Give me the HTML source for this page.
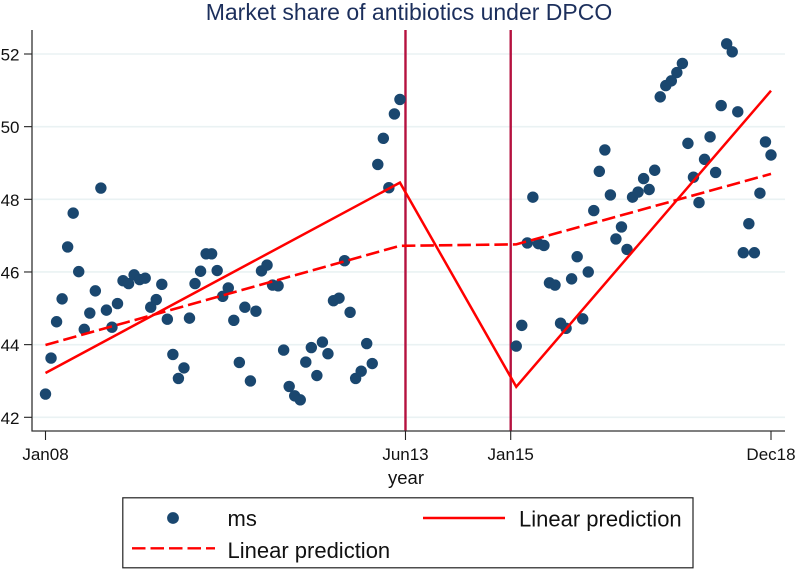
<!DOCTYPE html>
<html lang="en">
<head>
<meta charset="utf-8">
<title>Market share of antibiotics under DPCO</title>
<style>
html,body{margin:0;padding:0;background:#fff;width:797px;height:569px;overflow:hidden}
svg{display:block}
text{font-family:"Liberation Sans",Arial,sans-serif;fill:#111}
</style>
</head>
<body>
<svg id="chart" xmlns="http://www.w3.org/2000/svg" width="797" height="569" viewBox="0 0 797 569">
  <text x="409" y="20" text-anchor="middle" font-size="23" style="fill:#1c2f5c">Market share of antibiotics under DPCO</text>
  <g id="grid"></g>
  <g id="vlines"></g>
  <g id="points"></g>
  <g id="fits"></g>
  <g id="axes"></g>
  <text x="406" y="484" text-anchor="middle" font-size="18.5">year</text>
  <g>
    <rect x="122.8" y="497.8" width="570.2" height="70" fill="#fff" stroke="#222" stroke-width="1.2"/>
    <circle cx="173" cy="518" r="5.9" fill="#1a476f"/>
    <text x="227.5" y="526" font-size="22">ms</text>
    <line x1="423" y1="518" x2="505" y2="518" stroke="#ff0000" stroke-width="2.4"/>
    <text x="519" y="526.5" font-size="22">Linear prediction</text>
    <line x1="132" y1="548.3" x2="215" y2="548.3" stroke="#ff0000" stroke-width="2.4" stroke-dasharray="13.5 5"/>
    <text x="227.5" y="558" font-size="22">Linear prediction</text>
  </g>
</svg>
<script>
const yTicks = [42, 44, 46, 48, 50, 52];
const xTickMonths = [0, 65, 84, 131];
const xTickLabels = ["Jan08", "Jun13", "Jan15", "Dec18"];
const interventionMonths = [65, 84];

const msPreStartMonth = 0;
const msPre = [42.64,43.63,44.63,45.26,46.69,47.62,46.01,44.42,44.87,45.48,48.31,44.95,44.48,45.13,45.76,45.68,45.92,45.79,45.83,45.03,45.24,45.66,44.70,43.73,43.07,43.36,44.73,45.68,46.02,46.50,46.50,46.04,45.33,45.56,44.67,43.51,45.03,43.00,44.92,46.03,46.19,45.64,45.62,43.85,42.85,42.59,42.48,43.52,43.92,43.15,44.07,43.75,45.21,45.28,46.31,44.89,43.07,43.27,44.03,43.48,48.96,49.68,48.32,50.35,50.75];

const msPostStartMonth = 85;
const msPost = [43.96,44.53,46.80,48.06,46.78,46.73,45.70,45.64,44.59,44.45,45.81,46.42,44.71,46.00,47.69,48.77,49.36,48.12,46.91,47.24,46.62,48.06,48.20,48.57,48.27,48.80,50.82,51.13,51.26,51.49,51.74,49.54,48.61,47.91,49.10,49.72,48.74,50.58,52.28,52.06,50.41,46.53,47.33,46.53,48.17,49.58,49.22];

const fitMonths = [0, 64, 85, 131];
const fitSolid = [43.22, 48.46, 42.84, 50.99];
const fitDashed = [43.99, 46.72, 46.76, 48.70];

function xScale(month) { return 45.5 + month * (771 - 45.5) / 131; }
function yScale(value) { return 417.3 - (value - 42) * 36.33; }

const SVG_NS = "http://www.w3.org/2000/svg";
function make(tag, attrs, parentId) {
  const node = document.createElementNS(SVG_NS, tag);
  for (const k in attrs) node.setAttribute(k, attrs[k]);
  document.getElementById(parentId).appendChild(node);
  return node;
}

yTicks.forEach(function (t) {
  const g = make("line", {x1: 33, x2: 785, y1: yScale(t), y2: yScale(t), stroke: "#eaf2f3", "stroke-width": 1.6}, "grid");
  
  
});

interventionMonths.forEach(function (m) {
  const v = make("line", {x1: xScale(m), x2: xScale(m), y1: 30, y2: 431, stroke: "#b5113f", "stroke-width": 2.4}, "vlines");
  
  
});

function drawPoints(series, start) {
  series.forEach(function (val, i) {
    const c = make("circle", {cx: xScale(start + i), cy: yScale(val), r: 5.7, fill: "#1a476f"}, "points");
    
    
  });
}
drawPoints(msPre, msPreStartMonth);
drawPoints(msPost, msPostStartMonth);

function linePoints(series) {
  return series.map(function (v, i) { return xScale(fitMonths[i]).toFixed(2) + "," + yScale(v).toFixed(2); }).join(" ");
}
const solid = make("polyline", {points: linePoints(fitSolid), fill: "none", stroke: "#ff0000", "stroke-width": 2.5}, "fits");


const dashed = make("polyline", {points: linePoints(fitDashed), fill: "none", stroke: "#ff0000", "stroke-width": 2.6, "stroke-dasharray": "13.5 5"}, "fits");



const yAxisLine = make("line", {x1: 32, x2: 32, y1: 30, y2: 431.5, stroke: "#333", "stroke-width": 1.3}, "axes");


const xAxisLine = make("line", {x1: 31.5, x2: 785, y1: 431, y2: 431, stroke: "#333", "stroke-width": 1.3}, "axes");



yTicks.forEach(function (t) {
  const tick = make("line", {x1: 24, x2: 32, y1: yScale(t), y2: yScale(t), stroke: "#222", "stroke-width": 1.1}, "axes");
  
  
  const lab = make("text", {x: 19.5, y: yScale(t) + 6.5, "text-anchor": "end", "font-size": 17}, "axes");
  
  
  lab.textContent = String(t);
});

xTickMonths.forEach(function (m, i) {
  const tick = make("line", {x1: xScale(m), x2: xScale(m), y1: 431, y2: 440, stroke: "#222", "stroke-width": 1.1}, "axes");
  
  
  const lab = make("text", {x: xScale(m), y: 460, "text-anchor": "middle", "font-size": 17}, "axes");
  
  
  lab.textContent = xTickLabels[i];
});
</script>
</body>
</html>
